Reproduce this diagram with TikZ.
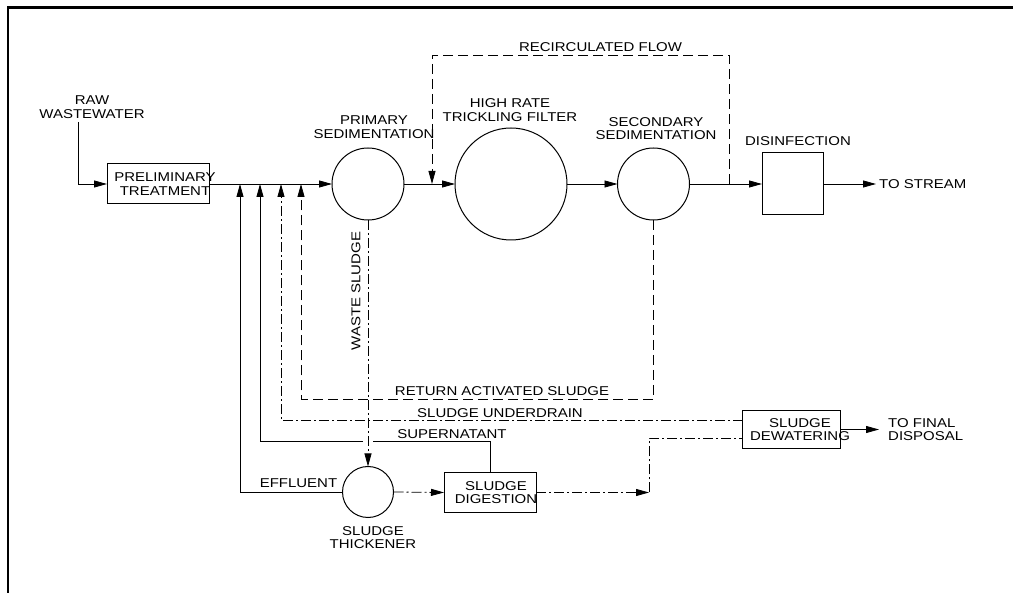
\documentclass[tikz,border=0pt]{standalone}
\usepackage{fontspec}
\setmainfont{Liberation Sans}[FakeStretch=1.17]
\usetikzlibrary{arrows.meta}
\begin{document}
\begin{tikzpicture}[x=1pt,y=-1pt,
  shp/.style={draw, line width=1pt, inner sep=0pt, outer sep=0pt},
  blk/.style={shp, rectangle},
  tank/.style={shp, circle},
  lbl/.style={inner sep=0pt, align=center, font=\fontsize{12.8}{13.5}\selectfont},
  ln/.style={line width=0.8pt},
  flow/.style={ln, -{Triangle[length=13pt,width=7pt]}},
  dsh/.style={dash pattern=on 10pt off 5pt},
  ddot/.style={dash pattern=on 10pt off 3pt on 2pt off 3pt}]
\useasboundingbox (0,0) rectangle (1013,593);
\draw[line width=2.5pt] (8,593) -- (8,7.5) -- (1013,7.5);

% units
\node[blk, minimum width=102pt, minimum height=40pt] (pre) at (158,184) {};
\node[lbl] (preL) at (165,184) {PRELIMINARY\\TREATMENT};
\node[tank, minimum size=72pt] (prim) at (368,184) {};
\node[lbl] (primL) at (374,127) {PRIMARY\\SEDIMENTATION};
\node[tank, minimum size=112pt] (trk) at (511,184) {};
\node[lbl] (trkL) at (510,110) {HIGH RATE\\TRICKLING FILTER};
\node[tank, minimum size=72pt] (sec) at (653.5,184) {};
\node[lbl] (secL) at (656,128.5) {SECONDARY\\SEDIMENTATION};
\node[blk, minimum width=61pt, minimum height=62pt] (dis) at (792.5,184) {};
\node[lbl] (disL) at (798,141) {DISINFECTION};
\node[lbl, anchor=west] (str) at (879,184) {TO STREAM};
\node[lbl] (raw) at (92,107) {RAW\\WASTEWATER};
\node[lbl] (recL) at (600.5,47.5) {RECIRCULATED FLOW};

\node[tank, minimum size=51pt] (thk) at (368,492) {};
\node[lbl] (thkL) at (373,537.5) {SLUDGE\\THICKENER};
\node[blk, minimum width=92pt, minimum height=40pt] (dig) at (490,492.5) {};
\node[lbl] (digL) at (496,492.5) {SLUDGE\\DIGESTION};
\node[blk, minimum width=98pt, minimum height=38pt] (dew) at (791.7,429.5) {};
\node[lbl] (dewL) at (800,429.5) {SLUDGE\\DEWATERING};
\node[lbl, anchor=west, align=left] (fin) at (888,429.5) {TO FINAL\\DISPOSAL};

\node[lbl, rotate=90] (wsL) at (356,291) {WASTE SLUDGE};
\node[lbl] (rasL) at (502,391) {RETURN ACTIVATED SLUDGE};
\node[lbl] (udL) at (500,413) {SLUDGE UNDERDRAIN};
\node[lbl] (supL) at (452,434) {SUPERNATANT};
\node[lbl] (effL) at (298.5,483) {EFFLUENT};

% coordinates
\coordinate (rawS) at (78,122);
\coordinate (rcR) at (729,184);
\coordinate (rcT) at (432,55);
\coordinate (rcB) at (432,184);
\coordinate (jE) at (240,184);
\coordinate (jS) at (260,184);
\coordinate (jU) at (281,184);
\coordinate (jR) at (301,184);
\coordinate (rasC) at (301,399);
\coordinate (dwA) at (742.7,420);
\coordinate (dwB) at (742.7,438.5);
\coordinate (supR) at (373,441);
\coordinate (supG) at (363,441);
\coordinate (dcor) at (649,492.5);

% main flow
\draw[flow] (rawS) |- (pre.west);
\draw[flow] (pre.east) -- (prim.west);
\draw[flow] (prim.east) -- (trk.west);
\draw[flow] (trk.east) -- (sec.west);
\draw[flow] (sec.east) -- (dis.west);
\draw[flow, shorten >=3pt] (dis.east) -- (str.west);
\draw[flow, dsh] (rcR) |- (rcT) -- (rcB);

% returns
\draw[flow, dsh] (sec.south) |- (rasC) -- (jR);
\draw[flow, ddot] (dwA) -| (jU);
\draw[ln] (dig.north) |- (supR);
\draw[flow] (supG) -| (jS);
\draw[flow] (thk.west) -| (jE);

% sludge line
\draw[flow, ddot] (prim.south) -- (thk.north);
\draw[flow, ddot] (thk.east) -- (dig.west);
\draw[flow, ddot] (dig.east) -- (dcor);
\draw[ln, ddot] (dcor) |- (dwB);
\draw[flow, shorten >=9pt] (dew.east) -- (fin.west);
\end{tikzpicture}
\end{document}
